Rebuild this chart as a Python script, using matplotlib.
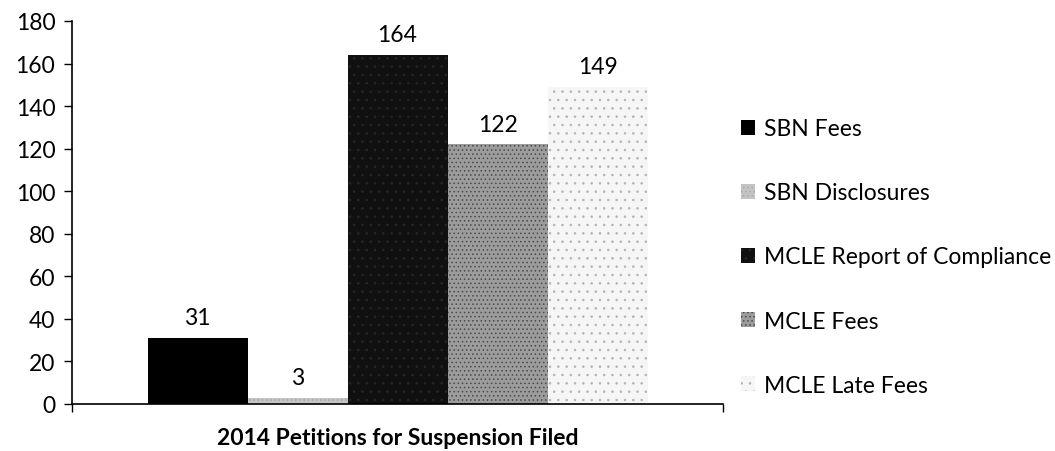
import matplotlib
matplotlib.use("Agg")
import matplotlib.pyplot as plt
from matplotlib.patches import Patch

category = "2014 Petitions for Suspension Filed"
series = ["SBN Fees", "SBN Disclosures", "MCLE Report of Compliance", "MCLE Fees", "MCLE Late Fees"]
values = [31, 3, 164, 122, 149]
yticks = [0, 20, 40, 60, 80, 100, 120, 140, 160, 180]

faces = ["#000000", "#c4c4c4", "#101010", "#9c9c9c", "#f6f6f6"]
hatch_cols = ["#000000", "#a8a8a8", "#262626", "#4a4a4a", "#b4b4b4"]
hatches = [None, "....", "..", "....", ".."]

plt.rcParams['font.family'] = ['Lato', 'DejaVu Sans']
plt.rcParams['hatch.linewidth'] = 0.6
FS = 16.5

fig = plt.figure(figsize=(10.55, 4.52), dpi=100)
ax = fig.add_axes([72/1055, 1-405/452, (723-72)/1055, (405-22)/452])

n = len(series)
positions = [i - (n - 1) / 2 for i in range(n)]
for pos, v, fc, hc, h in zip(positions, values, faces, hatch_cols, hatches):
    ax.bar(pos, v, width=1.0, color=fc, edgecolor=hc, hatch=h, linewidth=0)
    ax.text(pos, v + 4.5, str(v), ha='center', va='bottom', fontsize=FS, color='black')

ax.set_xlim(-3.255, 3.255)
ax.set_ylim(0, 180)
ax.set_yticks(yticks)
ax.set_yticklabels([str(t) for t in yticks], fontsize=FS)
ax.set_xticks([-3.255, 3.255])
ax.set_xticklabels(["", ""])
ax.tick_params(axis='both', direction='out', length=6, width=1, color='black')
ax.tick_params(axis='y', pad=6)
for s in ['top', 'right']:
    ax.spines[s].set_visible(False)
for s in ['left', 'bottom']:
    ax.spines[s].set_linewidth(1.2)
ax.set_xlabel(category, fontsize=FS, fontweight='bold', labelpad=7)

handles = [Patch(facecolor=fc, edgecolor=hc, hatch=h, linewidth=0)
           for fc, hc, h in zip(faces, hatch_cols, hatches)]
fig.legend(handles, series, loc='center left', bbox_to_anchor=(732/1055, 1-258/452),
           frameon=False, fontsize=FS, handlelength=0.6, handleheight=0.6,
           handletextpad=0.4, labelspacing=1.88, borderaxespad=0)

fig.savefig("out.png", dpi=100)
